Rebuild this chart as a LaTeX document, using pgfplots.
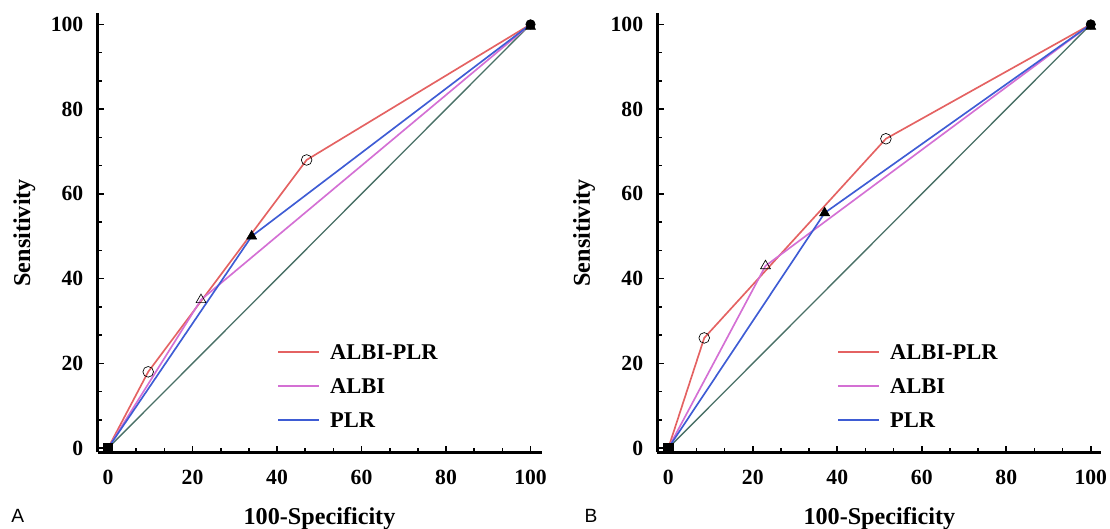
\documentclass[border=0pt]{standalone}
\usepackage{fontspec}
\setmainfont{Liberation Serif}
\newfontfamily\labelfont{Liberation Sans}
\usepackage{pgfplots}
\pgfplotsset{compat=1.18}

\definecolor{albiplrcol}{RGB}{228,98,98}
\definecolor{albicol}{RGB}{212,112,212}
\definecolor{plrcol}{RGB}{62,92,212}
\definecolor{diagcol}{RGB}{72,112,102}

\pgfplotsset{
  rocstyle/.style={
    scale only axis,
    width=266.4pt, height=263.4pt,
    ymin=-1, ymax=102.6,
    axis lines=left,
    axis line style={-, line width=1.4pt},
    xtick={0,20,...,100}, ytick={0,20,...,100},
    minor tick num=2,
    tick align=inside,
    major tick length=4pt, minor tick length=2.5pt,
    every tick/.style={black, line width=1pt},
    /pgf/number format/assume math mode=true,
    ticklabel style={font=\fontsize{13}{15}\selectfont\bfseries},
    xticklabel style={yshift=-7pt},
    yticklabel style={xshift=-5pt},
    xlabel={100-Specificity}, ylabel={Sensitivity},
    label style={font=\fontsize{14.5}{17}\selectfont\bfseries},
    xlabel style={at={(axis description cs:0.5,0)}, anchor=base, yshift=-43pt},
    ylabel style={at={(axis description cs:-0.165,0.5)}, anchor=center},
    clip=false,
  },
  curve/.style={line width=1pt, mark=none},
}
\tikzset{
  legtext/.style={anchor=west, inner sep=0pt, text=black,
    font=\fontsize{13.5}{16}\selectfont\bfseries},
}

\begin{document}
\begin{tikzpicture}
\path[use as bounding box] (0,0) rectangle (666pt,316.8pt);

% ---- panel A
\begin{axis}[rocstyle, at={(58.5pt,45.4pt)}, anchor=south west,
  xmin=-2.5, xmax=102.6]
\addplot[draw=diagcol, line width=0.8pt] coordinates {(0,0) (100,100)};
\addplot[curve, draw=albiplrcol] coordinates {(0,0) (9.5,18) (47,68) (100,100)};
\addplot[curve, draw=albicol] coordinates {(0,0) (22,35) (100,100)};
\addplot[curve, draw=plrcol] coordinates {(0,0) (34,50) (100,100)};
\addplot[only marks, mark=o, mark size=3.2pt, black, fill=white] coordinates {(9.5,18) (47,68)};
\addplot[only marks, mark=triangle, mark size=3.4pt, black, fill=white] coordinates {(22,35)};
\addplot[only marks, mark=triangle*, mark size=3.4pt, black] coordinates {(34,50) (100,99.5)};
\addplot[only marks, mark=square*, mark size=2.8pt, black] coordinates {(0,0)};
\addplot[only marks, mark=*, mark size=2.8pt, black] coordinates {(100,100)};
\end{axis}

% ---- panel B
\begin{axis}[rocstyle, at={(394.4pt,45.4pt)}, anchor=south west,
  xmin=-2.6, xmax=102.5]
\addplot[draw=diagcol, line width=0.8pt] coordinates {(0,0) (100,100)};
\addplot[curve, draw=albiplrcol] coordinates {(0,0) (8.5,26) (51.5,73) (100,100)};
\addplot[curve, draw=albicol] coordinates {(0,0) (23,43) (100,100)};
\addplot[curve, draw=plrcol] coordinates {(0,0) (37,55.5) (100,100)};
\addplot[only marks, mark=o, mark size=3.2pt, black, fill=white] coordinates {(8.5,26) (51.5,73)};
\addplot[only marks, mark=triangle, mark size=3.4pt, black, fill=white] coordinates {(23,43)};
\addplot[only marks, mark=triangle*, mark size=3.4pt, black] coordinates {(37,55.5) (100,99.5)};
\addplot[only marks, mark=square*, mark size=2.8pt, black] coordinates {(0,0)};
\addplot[only marks, mark=*, mark size=2.8pt, black] coordinates {(100,100)};
\end{axis}

% legends
\foreach \lx in {166.8, 502.8} {
  \draw[draw=albiplrcol, line width=1pt] (\lx pt,105.6pt) -- ++(24.6pt,0);
  \draw[draw=albicol, line width=1pt] (\lx pt,85.2pt) -- ++(24.6pt,0);
  \draw[draw=plrcol, line width=1pt] (\lx pt,64.8pt) -- ++(24.6pt,0);
  \node[legtext] at ([xshift=31pt]\lx pt,105.6pt) {ALBI-PLR};
  \node[legtext] at ([xshift=31pt]\lx pt,85.2pt) {ALBI};
  \node[legtext] at ([xshift=31pt]\lx pt,64.8pt) {PLR};
}

\node[font=\labelfont\fontsize{11.5}{13}\selectfont] at (10.6pt,7pt) {A};
\node[font=\labelfont\fontsize{11.5}{13}\selectfont] at (354.6pt,7pt) {B};
\end{tikzpicture}
\end{document}
